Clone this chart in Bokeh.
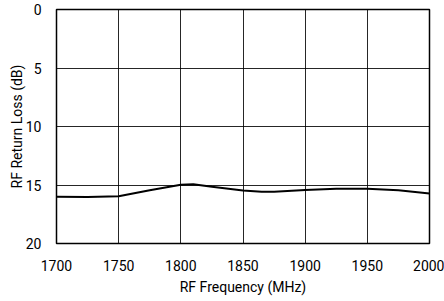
from bokeh.plotting import figure
from bokeh.models import Range1d, FixedTicker
from bokeh.embed import file_html
from bokeh.resources import INLINE

freq_mhz = [1700, 1725, 1750, 1775, 1800, 1810, 1825, 1850, 1865, 1875, 1900, 1925, 1950, 1975, 2000]
return_loss_db = [16.0, 16.03, 15.97, 15.45, 14.97, 14.93, 15.15, 15.47, 15.58, 15.57, 15.42, 15.33, 15.32, 15.45, 15.72]
x_ticks = [1700, 1750, 1800, 1850, 1900, 1950, 2000]
y_ticks = [0, 5, 10, 15, 20]

FONT = "Roboto"

p = figure(width=444, height=301, output_backend="svg", toolbar_location=None,
           x_range=Range1d(1700, 2000), y_range=Range1d(20, 0),
           min_border_top=9, min_border_right=15, min_border_left=56, min_border_bottom=58)

p.line(freq_mhz, return_loss_db, line_color="black", line_width=2)

p.outline_line_color = "black"
p.outline_line_width = 1.5

for ax, ticks in ((p.xaxis, x_ticks), (p.yaxis, y_ticks)):
    ax.ticker = FixedTicker(ticks=ticks)
    ax.axis_line_color = None
    ax.major_tick_line_color = None
    ax.minor_tick_line_color = None
    ax.major_label_text_font = FONT
    ax.major_label_text_font_size = "14px"
    ax.major_label_text_color = "black"
    ax.axis_label_text_font = FONT
    ax.axis_label_text_font_size = "14px"
    ax.axis_label_text_font_style = "normal"
    ax.axis_label_text_color = "black"

p.xaxis.axis_label = "RF Frequency (MHz)"
p.yaxis.axis_label = "RF Return Loss (dB)"
p.xaxis.major_label_standoff = 10
p.xaxis.axis_label_standoff = 5
p.yaxis.major_label_standoff = 9
p.yaxis.axis_label_standoff = -2

p.xgrid.ticker = FixedTicker(ticks=x_ticks)
p.ygrid.ticker = FixedTicker(ticks=y_ticks)
for g in (p.xgrid, p.ygrid):
    g.grid_line_color = "black"
    g.grid_line_width = 1
    g.grid_line_alpha = 0.85

p.background_fill_color = "white"
p.border_fill_color = "white"

open("out.html", "w").write(file_html(p, INLINE))
